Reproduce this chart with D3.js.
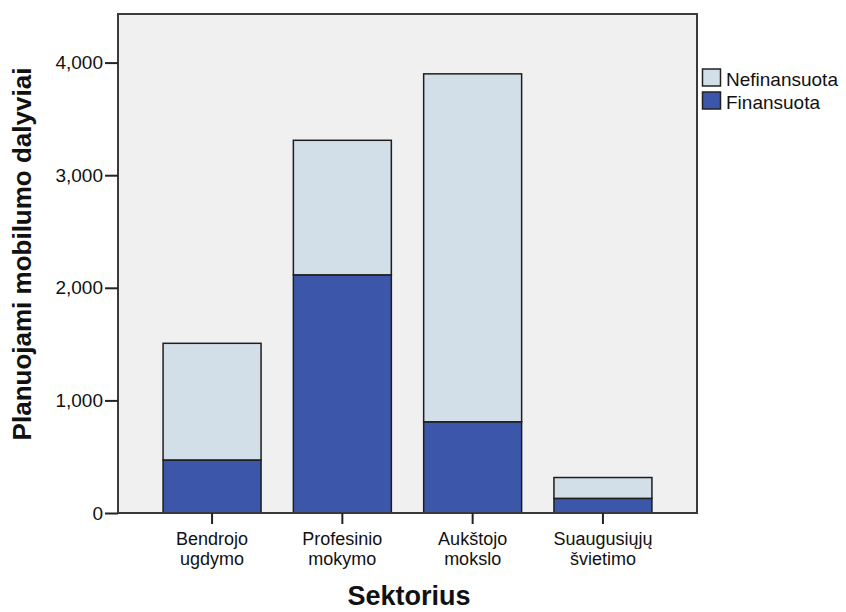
<!DOCTYPE html>
<html>
<head>
<meta charset="utf-8">
<script src="https://cdn.jsdelivr.net/npm/d3@7"></script>
<style>
  html, body { margin: 0; padding: 0; background: #fff; }
  svg { display: block; }
  text { font-family: "Liberation Sans", Arial, sans-serif; fill: #111; }
</style>
</head>
<body>
<svg id="chart" width="846" height="612"></svg>
<script>
// ---- data ----
const categories = [["Bendrojo", "ugdymo"], ["Profesinio", "mokymo"], ["Aukštojo", "mokslo"], ["Suaugusiųjų", "švietimo"]];
const categoryKeys = ["Bendrojo ugdymo", "Profesinio mokymo", "Aukštojo mokslo", "Suaugusiųjų švietimo"];
const financed = [471, 2115, 810, 130];
const nonFinanced = [1036, 1195, 3090, 185];
const seriesNames = ["Finansuota", "Nefinansuota"];
const legendOrder = ["Nefinansuota", "Finansuota"];
const yTicks = [0, 1000, 2000, 3000, 4000];
const yTitle = "Planuojami mobilumo dalyviai";
const xTitle = "Sektorius";

// ---- layout ----
const plot = { left: 118, right: 697, top: 14, bottom: 513 };
const colors = { "Finansuota": "#3c56aa", "Nefinansuota": "#d3dfe8" };

const svg = d3.select("#chart");

const x = d3.scaleBand()
  .domain(categoryKeys)
  .range([plot.left, plot.right])
  .paddingInner(0.248)
  .paddingOuter(0.346);

const y = d3.scaleLinear()
  .domain([0, 4000])
  .range([plot.bottom, plot.bottom - 4000 * 0.1126]);

// plot background
svg.append("rect")
  .attr("x", plot.left).attr("y", plot.top)
  .attr("width", plot.right - plot.left).attr("height", plot.bottom - plot.top)
  .attr("fill", "#f0f0f0");

// stacked data
const rows = categoryKeys.map((k, i) => ({ key: k, Finansuota: financed[i], Nefinansuota: nonFinanced[i] }));
const stack = d3.stack().keys(seriesNames)(rows);

svg.append("g").selectAll("g")
  .data(stack)
  .join("g")
  .attr("fill", d => colors[d.key])
  .selectAll("rect")
  .data(d => d)
  .join("rect")
  .attr("x", d => x(d.data.key))
  .attr("y", d => y(d[1]))
  .attr("width", x.bandwidth())
  .attr("height", d => y(d[0]) - y(d[1]))
  .attr("stroke", "#1e1e1e")
  .attr("stroke-width", 1.5);

// plot frame
svg.append("rect")
  .attr("x", plot.left).attr("y", plot.top)
  .attr("width", plot.right - plot.left).attr("height", plot.bottom - plot.top)
  .attr("fill", "none")
  .attr("stroke", "#3a3a3a")
  .attr("stroke-width", 2);

// y axis
const yAxis = svg.append("g")
  .attr("transform", `translate(${plot.left},0)`)
  .call(d3.axisLeft(y).tickValues(yTicks).tickFormat(d3.format(",")).tickSize(13).tickPadding(2));
yAxis.select(".domain").remove();
yAxis.selectAll(".tick line").attr("stroke", "#222").attr("stroke-width", 2);
yAxis.selectAll(".tick text")
  .style("font-family", "'Liberation Sans', Arial, sans-serif")
  .style("font-size", "19px").attr("fill", "#111");

// x axis
const xAxis = svg.append("g")
  .attr("transform", `translate(0,${plot.bottom})`)
  .call(d3.axisBottom(x).tickSize(11).tickFormat(""));
xAxis.select(".domain").remove();
xAxis.selectAll(".tick line").attr("stroke", "#222").attr("stroke-width", 2);

const catLabels = svg.append("g");
categoryKeys.forEach((k, i) => {
  const cx = x(k) + x.bandwidth() / 2;
  categories[i].forEach((line, j) => {
    catLabels.append("text")
      .attr("text-anchor", "middle")
      .style("font-size", "18px")
      .attr("x", cx).attr("y", 545 + j * 19.5)
      .text(line);
  });
});

// axis titles
svg.append("text")
  .attr("transform", `translate(31,254) rotate(-90)`)
  .attr("text-anchor", "middle")
  .style("font-size", "26px").style("font-weight", "bold")
  .text(yTitle);

svg.append("text")
  .attr("x", 409).attr("y", 605)
  .attr("text-anchor", "middle")
  .style("font-size", "27px").style("font-weight", "bold")
  .text(xTitle);

// legend
const legend = svg.append("g");
legendOrder.forEach((name, i) => {
  const gy = 69 + i * 23;
  legend.append("rect")
    .attr("x", 702.5).attr("y", gy)
    .attr("width", 18).attr("height", 17)
    .attr("fill", colors[name])
    .attr("stroke", "#222").attr("stroke-width", 1.5);
  legend.append("text")
    .attr("x", 726).attr("y", gy + 16.5)
    .style("font-size", "19px")
    .text(name);
});
</script>
</body>
</html>
